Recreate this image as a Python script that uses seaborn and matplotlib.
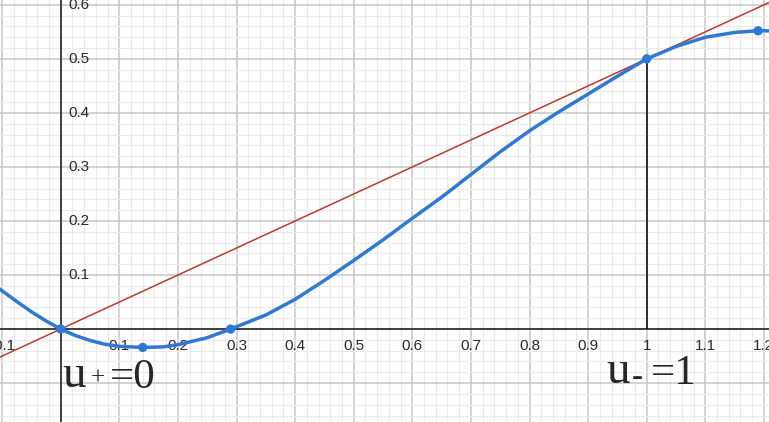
import numpy as np
import pandas as pd
import seaborn as sns
import matplotlib.pyplot as plt

# curve values
u_vals = [-0.104, -0.075, -0.05, -0.025, 0.0, 0.025, 0.05, 0.075, 0.1, 0.14, 0.175, 0.2,
          0.25, 0.29, 0.35, 0.4, 0.45, 0.5, 0.55, 0.6, 0.65, 0.7, 0.75, 0.8, 0.85,
          0.9, 0.95, 1.0, 1.05, 1.1, 1.15, 1.19, 1.21]
f_vals = [0.074, 0.051, 0.032, 0.015, 0.0, -0.012, -0.021, -0.028, -0.032, -0.034, -0.033, -0.029,
          -0.016, 0.0, 0.026, 0.055, 0.09, 0.127, 0.165, 0.205, 0.244, 0.286, 0.328, 0.367, 0.402,
          0.435, 0.468, 0.5, 0.523, 0.540, 0.549, 0.552, 0.552]

# marked points
pt_u = [0.0, 0.14, 0.29, 1.0, 1.19]
pt_f = [0.0, -0.034, 0.0, 0.5, 0.552]

# tangent / chord line y = 0.5 u
red_slope = 0.5

x_ticks = [-0.1, 0.1, 0.2, 0.3, 0.4, 0.5, 0.6, 0.7, 0.8, 0.9, 1.0, 1.1, 1.2]
x_labels = ["-0.1", "0.1", "0.2", "0.3", "0.4", "0.5", "0.6", "0.7", "0.8", "0.9", "1", "1.1", "1.2"]
y_ticks = [0.1, 0.2, 0.3, 0.4, 0.5, 0.6]
y_labels = ["0.1", "0.2", "0.3", "0.4", "0.5", "0.6"]

curve = pd.DataFrame({"u": u_vals, "f": f_vals})
points = pd.DataFrame({"u": pt_u, "f": pt_f})

sns.set_style("white")
plt.rcParams['font.family'] = ['Liberation Sans', 'DejaVu Sans']

fig = plt.figure(figsize=(7.69, 4.22), dpi=100)
ax = fig.add_axes([0, 0, 1, 1])

# red line and vertical marker line
ax.axline((0, 0), slope=red_slope, color="#c0392b", linewidth=1.1, zorder=3)
ax.vlines(1.0, 0, 0.5, color="black", linewidth=1.1, zorder=3)

sns.lineplot(data=curve, x="u", y="f", sort=False, color="#2e78d6", linewidth=2.5, ax=ax, zorder=4)
sns.scatterplot(data=points, x="u", y="f", color="#2e78d6", s=45, edgecolor="none", ax=ax, zorder=5)
ax.set_xlabel("")
ax.set_ylabel("")

# grid
ax.set_xticks(np.round(np.arange(-0.2, 1.3, 0.1), 2))
ax.set_yticks(np.round(np.arange(-0.2, 0.7, 0.1), 2))
ax.set_xticks(np.round(np.arange(-0.2, 1.3, 0.02), 2), minor=True)
ax.set_yticks(np.round(np.arange(-0.2, 0.7, 0.02), 2), minor=True)
ax.grid(which="minor", color="#ebebeb", linewidth=0.8, zorder=0)
ax.grid(which="major", color="#c6c6c6", linewidth=1.1, zorder=0)
ax.set_axisbelow(True)
ax.tick_params(which="both", length=0, labelbottom=False, labelleft=False)
for s in ax.spines.values():
    s.set_visible(False)

# axes
ax.axhline(0, color="#333333", linewidth=1.3, zorder=1)
ax.axvline(0, color="#333333", linewidth=1.3, zorder=1)

# tick labels
for v, t in zip(x_ticks, x_labels):
    ax.text(v, -0.031, t, ha="center", va="center", fontsize=11, color="#2a2a2a", zorder=2)
for v, t in zip(y_ticks, y_labels):
    ax.text(0.0125, v, t, ha="left", va="center", fontsize=11, color="#2a2a2a", zorder=2)

# annotations
serif = ["Liberation Serif", "DejaVu Serif"]
ax.text(0.003, -0.107, "u", family=serif, fontsize=34, va="baseline", ha="left", zorder=6)
ax.text(0.064, -0.091, "+", family=serif, fontsize=18, va="center", ha="center", zorder=6)
ax.text(0.084, -0.109, "=0", family=serif, fontsize=31, va="baseline", ha="left", zorder=6)
ax.text(0.931, -0.1, "u", family=serif, fontsize=34, va="baseline", ha="left", zorder=6)
ax.text(0.984, -0.09, "-", family=serif, fontsize=24, va="center", ha="center", zorder=6)
ax.text(1.007, -0.102, "=1", family=serif, fontsize=31, va="baseline", ha="left", zorder=6)

ax.set_xlim(-0.1036, 1.2087)
ax.set_ylim(-0.172, 0.609)

fig.savefig("out.png", dpi=100)
